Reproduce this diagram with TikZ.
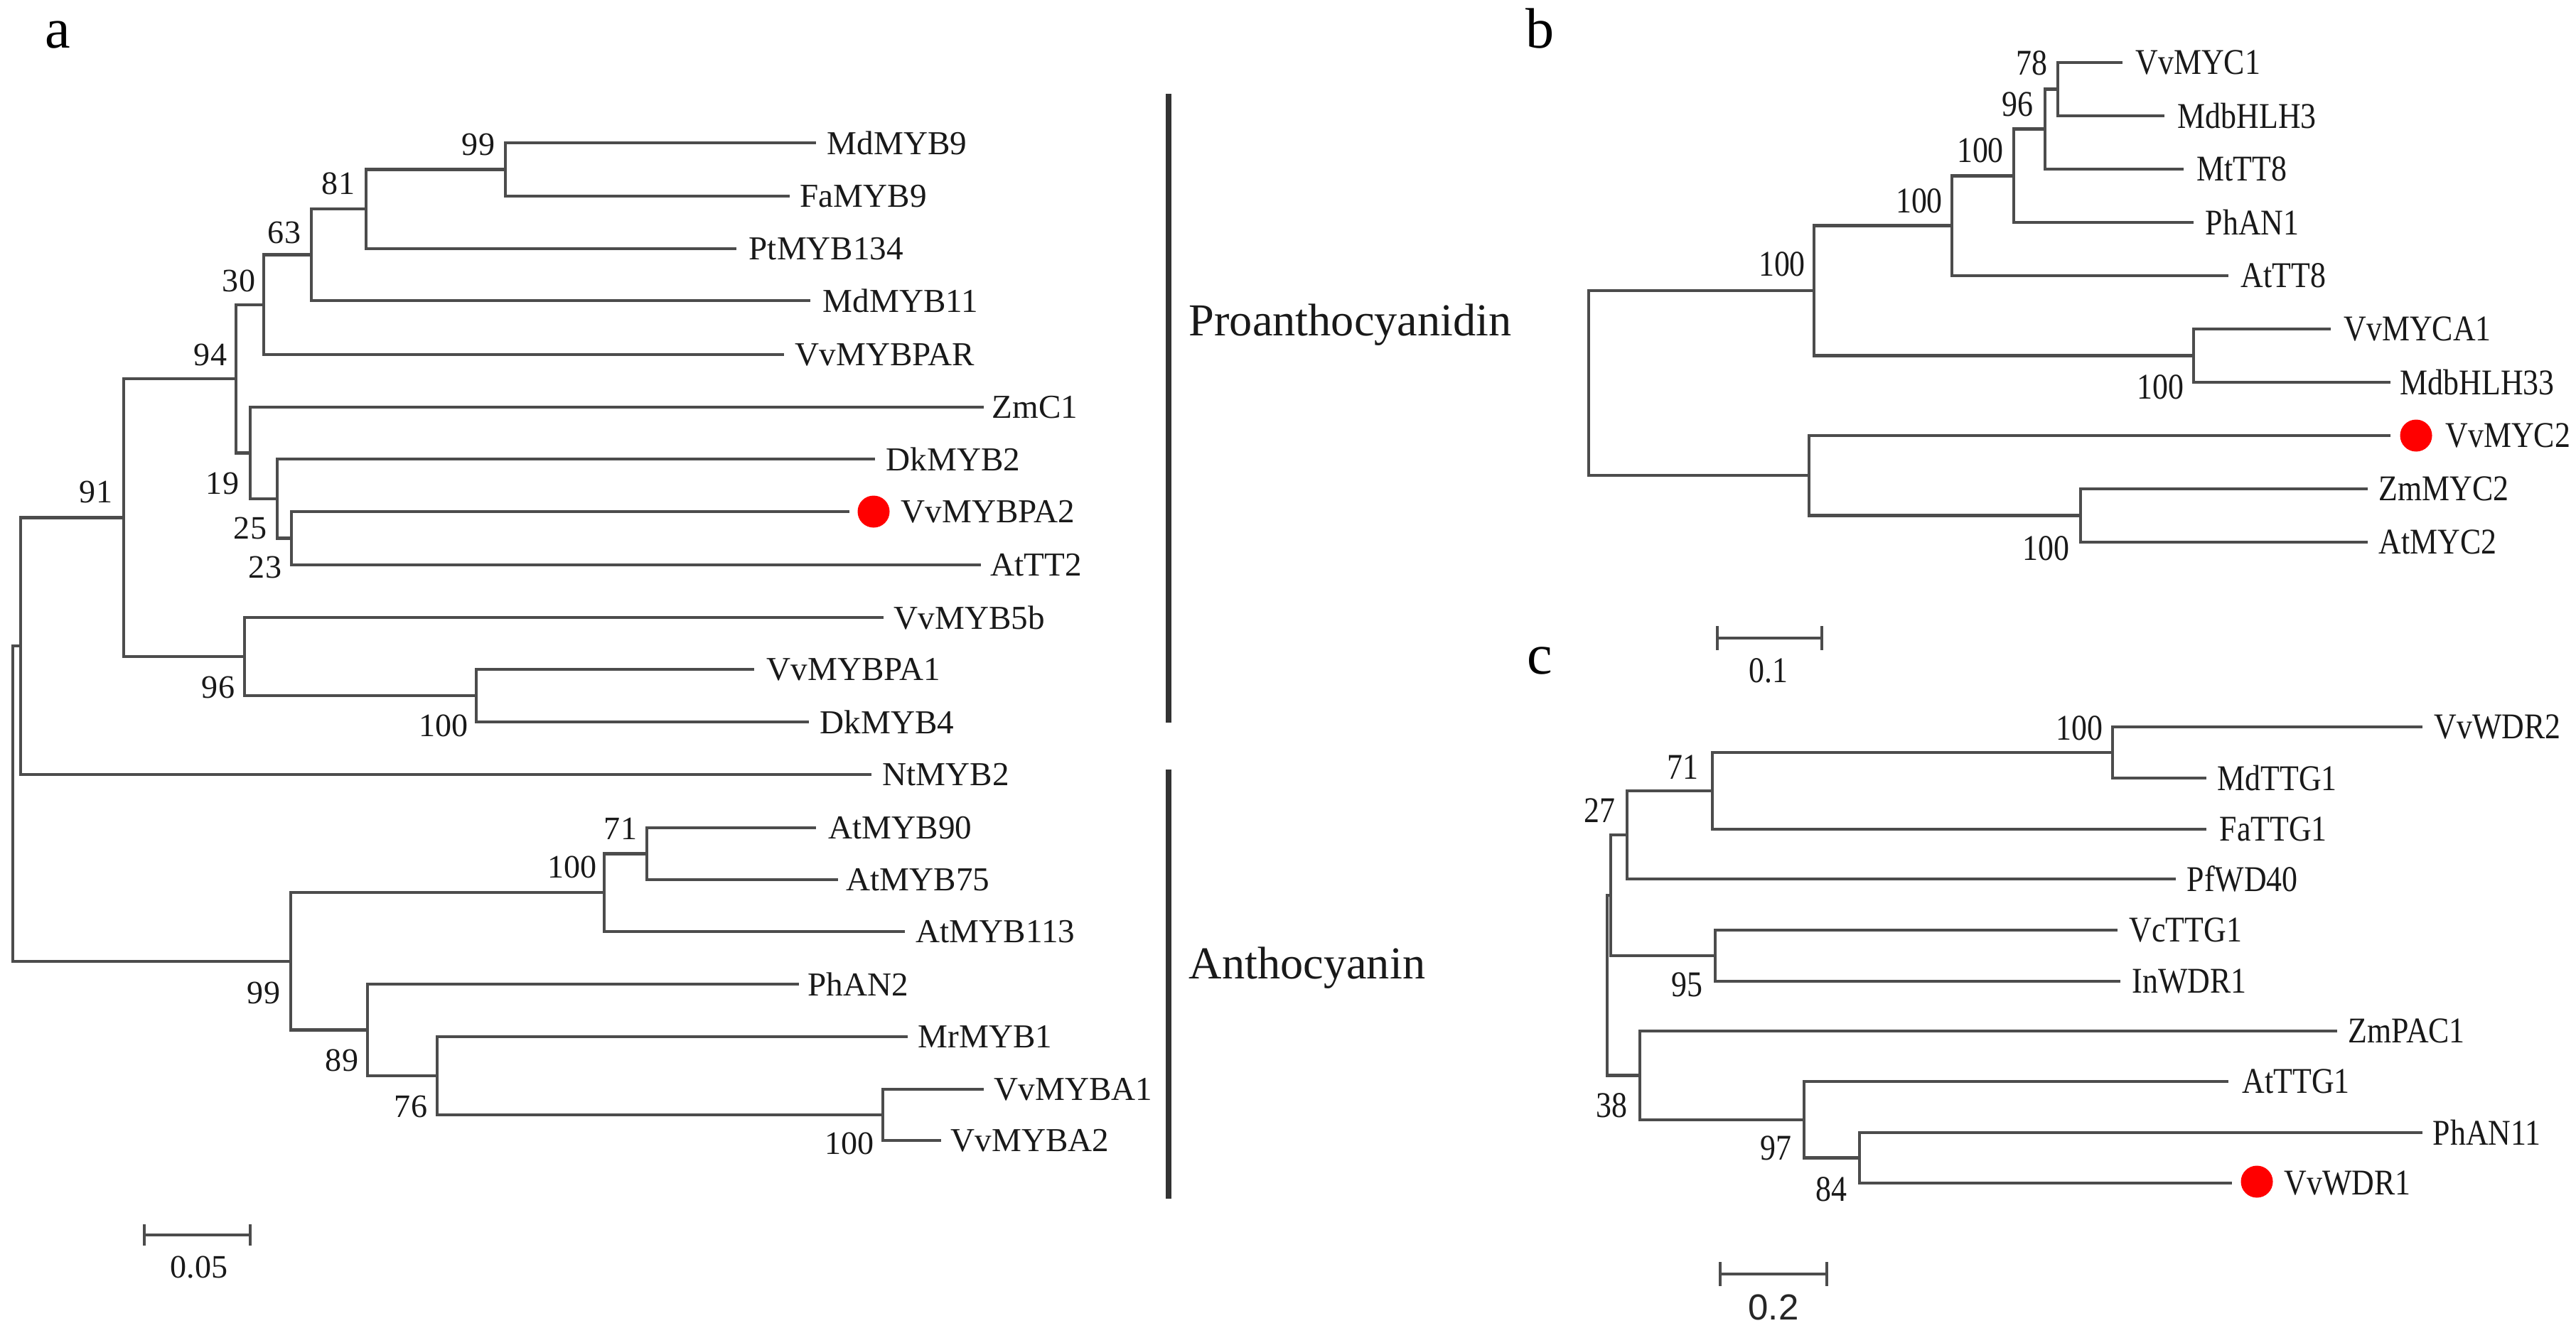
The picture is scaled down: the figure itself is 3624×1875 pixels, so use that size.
\documentclass[tikz,border=0pt]{standalone}
\usepackage{fontspec}
\setmainfont{Liberation Serif}
\newfontfamily\condfont[FakeStretch=0.86]{Liberation Serif}
\newfontfamily\sansf{Liberation Sans}
\begin{document}
\begin{tikzpicture}[x=0.01cm,y=-0.01cm,
  br/.style={draw=black!70, line width=1.3pt},
  lfa/.style={anchor=west, inner sep=0pt, font=\fontsize{13.4}{16}\selectfont, text=black!90},
  bsa/.style={inner sep=0pt, font=\fontsize{13.1}{16}\selectfont, text=black!90},
  lfb/.style={anchor=west, inner sep=0pt, font=\condfont\fontsize{14.5}{17}\selectfont, text=black!90},
  bsb/.style={inner sep=0pt, font=\condfont\fontsize{14.5}{17}\selectfont, text=black!90},
  reddot/.style={circle, fill=red, draw=none, inner sep=0pt, minimum size=0.45cm},
  panel/.style={anchor=base west, inner sep=0pt, font=\fontsize{22.8}{26}\selectfont},
  clade/.style={anchor=base west, inner sep=0pt, font=\fontsize{18.3}{20}\selectfont, text=black!90},
  cbar/.style={draw=black!80, line width=2.2pt},
]
\useasboundingbox (0,0) rectangle (3624,1875);
\fill[white] (0,0) rectangle (3624,1875);

% ---------------- panel a ----------------
\node[panel] (pa) at (63,67) {a};
\foreach \n/\xe/\xl/\y/\t in {
  1/1148/1163/201/MdMYB9, 2/1111/1125/276/FaMYB9, 3/1036/1053/350/PtMYB134,
  4/1140/1157/423/MdMYB11, 5/1103/1118/499/VvMYBPAR, 6/1384/1395/573/ZmC1,
  7/1231/1246/646/DkMYB2, 8/1195/1267/720/VvMYBPA2, 9/1380/1393/795/AtTT2,
  10/1243/1257/869/VvMYB5b, 11/1061/1078/942/VvMYBPA1, 12/1138/1153/1016/DkMYB4,
  13/1226/1241/1090/NtMYB2, 14/1148/1165/1165/AtMYB90, 15/1179/1190/1238/AtMYB75,
  16/1273/1288/1311/AtMYB113, 17/1124/1136/1385/PhAN2, 18/1277/1291/1459/MrMYB1,
  19/1384/1398/1533/VvMYBA1, 20/1324/1337/1605/VvMYBA2}{
  \coordinate (al\n) at (\xe,\y);
  \node[lfa] (lal\n) at (\xl,\y) {\t};
}
\node[reddot] (da) at (1229,720) {};

\coordinate (a99) at (711,238.5);
\coordinate (a81) at (515,294);
\coordinate (a63) at (438,358.5);
\coordinate (a30) at (371,429);
\coordinate (a23) at (410,757.5);
\coordinate (a25) at (390,702);
\coordinate (a19) at (352,637.5);
\coordinate (a94) at (332,533);
\coordinate (a100a) at (670,979);
\coordinate (a96) at (344,924);
\coordinate (a91) at (174,728.5);
\coordinate (aNt) at (29,909);
\coordinate (a71) at (910,1201.5);
\coordinate (a100b) at (850,1256);
\coordinate (a100c) at (1242,1569);
\coordinate (a76) at (615,1514);
\coordinate (a89) at (517,1449.5);
\coordinate (a99b) at (409,1353);
\coordinate (aroot) at (18,1131);

\foreach \p/\c in {a99/al1, a99/al2, a81/a99, a81/al3, a63/a81, a63/al4,
  a30/a63, a30/al5, a23/al8, a23/al9, a25/al7, a25/a23, a19/al6, a19/a25,
  a94/a30, a94/a19, a100a/al11, a100a/al12, a96/al10, a96/a100a,
  a91/a94, a91/a96, aNt/a91, aNt/al13, a71/al14, a71/al15, a100b/a71, a100b/al16,
  a100c/al19, a100c/al20, a76/al18, a76/a100c, a89/al17, a89/a76,
  a99b/a100b, a99b/a89, aroot/aNt, aroot/a99b}{
  \draw[br] (\p) |- (\c);
}

\foreach \n/\x/\y/\t in {b1/673/203/99, b2/476/258/81, b3/400/327/63, b4/336/395/30,
  b5/296/499/94, b6/135/692/91, b7/313/680/19, b8/352/743/25, b9/373/798/23,
  b10/307/967/96, b11/624/1021/100, b12/873/1166/71, b13/805/1220/100,
  b14/371/1397/99, b15/481/1492/89, b16/578/1557/76, b17/1195/1609/100}{
  \node[bsa] (ab\n) at (\x,\y) {\t};
}

% scale bar a
\coordinate (sa1) at (203,1738);
\coordinate (sa2) at (352,1738);
\draw[br] (sa1) -- (sa2);
\draw[br] ([yshift=0.15cm]sa1) -- ([yshift=-0.15cm]sa1);
\draw[br] ([yshift=0.15cm]sa2) -- ([yshift=-0.15cm]sa2);
\node[bsa] (sal) at (280,1783) {0.05};

% clade bars
\coordinate (pb1) at (1644,132);
\coordinate (pb2) at (1644,1017);
\coordinate (ab1) at (1644,1083);
\coordinate (ab2) at (1644,1687);
\draw[cbar] (pb1) -- (pb2);
\draw[cbar] (ab1) -- (ab2);
\node[clade] (proa) at (1672,472) {Proanthocyanidin};
\node[clade] (anth) at (1672,1377) {Anthocyanin};

% ---------------- panel b ----------------
\node[panel] (pbl) at (2146,67) {b};
\foreach \n/\xe/\xl/\y/\t in {
  1/2986/3004/88/VvMYC1, 2/3045/3063/163/MdbHLH3, 3/3072/3090/238/MtTT8,
  4/3086/3102/313/PhAN1, 5/3135/3152/388/AtTT8, 6/3279/3297/463/VvMYCA1,
  7/3363/3376/538/MdbHLH33, 8/3363/3440/613/VvMYC2, 9/3331/3346/688/ZmMYC2,
  10/3331/3346/763/AtMYC2}{
  \coordinate (bl\n) at (\xe,\y);
  \node[lfb] (lbl\n) at (\xl,\y) {\t};
}
\node[reddot] (db) at (3399,613) {};
\coordinate (bn5) at (2895,125.5);
\coordinate (bn4) at (2877,181.7);
\coordinate (bn3) at (2833,247.4);
\coordinate (bn2) at (2746,317.7);
\coordinate (bn6) at (3086,500.5);
\coordinate (bn1) at (2552,409);
\coordinate (bm2) at (2927,725.5);
\coordinate (bm1) at (2545,669);
\coordinate (broot) at (2235,539);
\foreach \p/\c in {bn5/bl1, bn5/bl2, bn4/bn5, bn4/bl3, bn3/bn4, bn3/bl4,
  bn2/bn3, bn2/bl5, bn6/bl6, bn6/bl7, bn1/bn2, bn1/bn6, bm2/bl9, bm2/bl10,
  bm1/bl8, bm1/bm2, broot/bn1, broot/bm1}{
  \draw[br] (\p) |- (\c);
}
\foreach \n/\x/\y/\t in {1/2858/89/78, 2/2838/147/96, 3/2786/212/100, 4/2700/283/100,
  5/2507/372/100, 6/3039/545/100, 7/2878/772/100}{
  \node[bsb] (bb\n) at (\x,\y) {\t};
}
\coordinate (sb1) at (2416,898);
\coordinate (sb2) at (2563,898);
\draw[br] (sb1) -- (sb2);
\draw[br] ([yshift=0.17cm]sb1) -- ([yshift=-0.17cm]sb1);
\draw[br] ([yshift=0.17cm]sb2) -- ([yshift=-0.17cm]sb2);
\node[bsb] (sbl) at (2488,944) {0.1};

% ---------------- panel c ----------------
\node[panel] (pcl) at (2148,948) {c};
\foreach \n/\xe/\xl/\y/\t in {
  1/3408/3424/1023/VvWDR2, 2/3104/3119/1095/MdTTG1, 3/3104/3122/1167/FaTTG1,
  4/3061/3076/1237/PfWD40, 5/2979/2995/1309/VcTTG1, 6/2983/2999/1381/InWDR1,
  7/3288/3303/1451/ZmPAC1, 8/3135/3154/1522/AtTTG1, 9/3408/3422/1594/PhAN11,
  10/3140/3213/1665/VvWDR1}{
  \coordinate (cl\n) at (\xe,\y);
  \node[lfb] (lcl\n) at (\xl,\y) {\t};
}
\node[reddot] (dc) at (3175,1663) {};
\coordinate (c100) at (2972,1059);
\coordinate (c71) at (2409,1113);
\coordinate (c27) at (2289,1175);
\coordinate (c95) at (2413,1345);
\coordinate (cA) at (2266,1260);
\coordinate (c84) at (2616,1629.5);
\coordinate (c97) at (2538,1576);
\coordinate (c38) at (2307,1513.5);
\coordinate (croot) at (2261,1387);
\foreach \p/\c in {c100/cl1, c100/cl2, c71/c100, c71/cl3, c27/c71, c27/cl4,
  c95/cl5, c95/cl6, cA/c27, cA/c95, c84/cl9, c84/cl10, c97/cl8, c97/c84,
  c38/cl7, c38/c97, croot/cA, croot/c38}{
  \draw[br] (\p) |- (\c);
}
\foreach \n/\x/\y/\t in {1/2925/1025/100, 2/2367/1080/71, 3/2250/1141/27, 4/2373/1386/95,
  5/2267/1556/38, 6/2498/1616/97, 7/2576/1674/84}{
  \node[bsb] (cb\n) at (\x,\y) {\t};
}
\coordinate (sc1) at (2420,1793);
\coordinate (sc2) at (2570,1793);
\draw[br] (sc1) -- (sc2);
\draw[br] ([yshift=0.17cm]sc1) -- ([yshift=-0.17cm]sc1);
\draw[br] ([yshift=0.17cm]sc2) -- ([yshift=-0.17cm]sc2);
\node[inner sep=0pt, font=\sansf\fontsize{14.5}{17}\selectfont, text=black!85] (scl) at (2495,1840) {0.2};
\end{tikzpicture}
\end{document}
